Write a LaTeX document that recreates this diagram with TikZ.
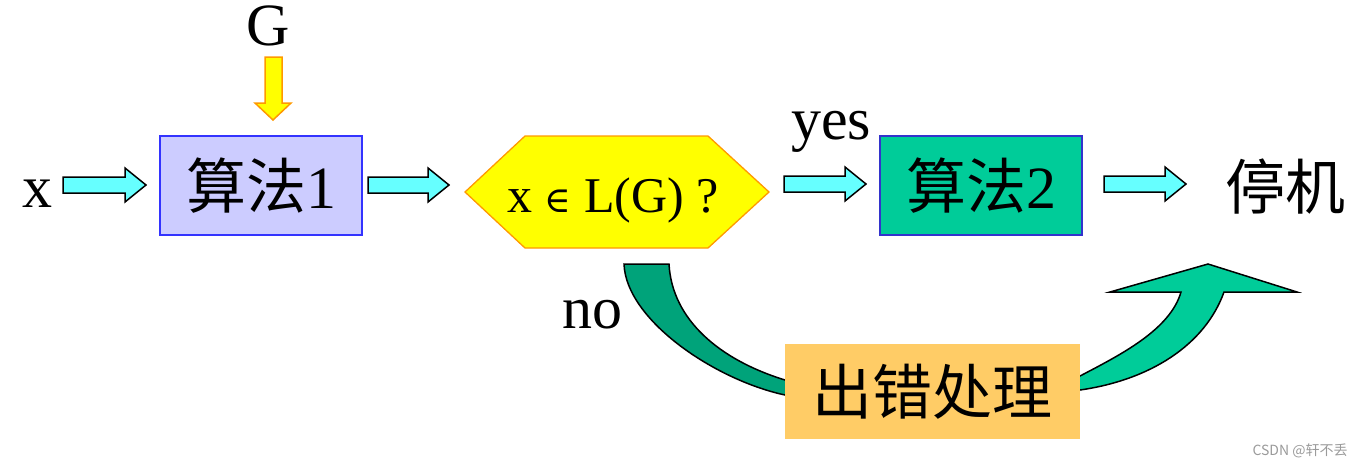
\documentclass[tikz,border=0pt]{standalone}
\usepackage{fontspec}
\setmainfont{Liberation Serif}
\newfontfamily\cjk{Noto Sans CJK SC}
\newfontfamily\symf{DejaVu Serif}
\usetikzlibrary{calc}
\definecolor{cyanfill}{HTML}{66FFFF}
\definecolor{lavfill}{HTML}{CCCCFF}
\definecolor{blueedge}{HTML}{3333FF}
\definecolor{tealfill}{HTML}{00CC99}
\definecolor{tealedge}{HTML}{3333CC}
\definecolor{hexfill}{HTML}{FFFF00}
\definecolor{hexedge}{HTML}{FF9900}
\definecolor{errfill}{HTML}{FFCC66}
\definecolor{darkgreen}{HTML}{00A37A}
\definecolor{wmgray}{HTML}{9A9A9A}
\newcommand\blockarr[2]{%
  \draw[blockarrow] ($(#1)+(0,-8)$) -- ($(#2)+(-21,-8)$) -- ($(#2)+(-21,-17)$) -- (#2)
    -- ($(#2)+(-21,17)$) -- ($(#2)+(-21,8)$) -- ($(#1)+(0,8)$) -- cycle;}
\begin{document}
\begin{tikzpicture}[x=1pt,y=-1pt,
  bigtext/.style={font=\fontsize{60}{70}\selectfont, inner sep=0pt},
  blockarrow/.style={draw=black, line width=1.5pt, fill=cyanfill, line join=miter},
  procbox/.style={minimum width=202pt, minimum height=99pt, line width=1.3pt, inner sep=0pt,
                  font=\fontsize{60}{70}\selectfont},
  bigarrow/.style={draw=black, line width=1.5pt, line join=miter}]
\useasboundingbox (0,0) rectangle (1365,469);

% texts
\node[bigtext, anchor=base] (xin) at (37,207) {x};
\node[bigtext, anchor=base] (G) at (268,45) {G};
\node[bigtext, anchor=base] (yes) at (831,139) {yes};
\node[bigtext, anchor=base] (no) at (592,328) {no};
\node[bigtext] (stop) at (1285,187) {\cjk 停机};

% boxes
\node[procbox, draw=blueedge, fill=lavfill] (alg1) at (261,185.5) {{\cjk 算法}1};
\node[procbox, draw=tealedge, fill=tealfill] (alg2) at (981,185.5) {{\cjk 算法}2};

% hexagon decision
\coordinate (hexc) at (616,192);
\draw[draw=hexedge, fill=hexfill, line width=1.3pt]
  (465,192) -- (525,136) -- (708,136) -- (769,192) -- (708,248) -- (525,248) -- cycle;
\node[font=\fontsize{50}{60}\selectfont, anchor=base, inner sep=0pt] (test) at (613,212)
  {x {\symf\fontsize{36}{40}\selectfont ∈} L(G) ?};

% G arrow
\draw[draw=hexedge, fill=hexfill, line width=1.5pt, line join=miter]
  (265,57) -- (282,57) -- (282,103) -- (291,103) -- (273,120) -- (255,103) -- (265,103) -- cycle;

% block arrows
\coordinate (a1s) at (63,185);   \coordinate (a1e) at (146,185);
\coordinate (a2s) at (368,185);  \coordinate (a2e) at (449,185);
\coordinate (a3s) at (784,184);  \coordinate (a3e) at (866,184);
\coordinate (a4s) at (1104,184); \coordinate (a4e) at (1186,184);
\blockarr{a1s}{a1e}
\blockarr{a2s}{a2e}
\blockarr{a3s}{a3e}
\blockarr{a4s}{a4e}

% curved arrows
\draw[bigarrow, fill=darkgreen]
  (624,264) -- (669,264) .. controls (672,320) and (720,360) .. (785,380)
  -- (798,381) -- (798,396) -- (785,395) .. controls (715,380) and (626,320) .. (624,264) -- cycle;
\draw[bigarrow, fill=tealfill]
  (1068,379) -- (1080,376) .. controls (1120,355) and (1170,330) .. (1181,292)
  -- (1110,292) -- (1208,264) -- (1297,292) -- (1224,292)
  .. controls (1205,345) and (1150,380) .. (1080,390) -- (1068,392) -- cycle;

% error box
\node[fill=errfill, minimum width=295pt, minimum height=95pt, inner sep=0pt,
      font=\fontsize{60}{70}\selectfont] (err) at (932.5,391.5) {\cjk 出错处理};

% watermark
\node[font=\cjk\fontsize{14}{16}\selectfont, text=wmgray, inner sep=0pt] (wm) at (1300,451) {CSDN @轩不丢};
\end{tikzpicture}
\end{document}
